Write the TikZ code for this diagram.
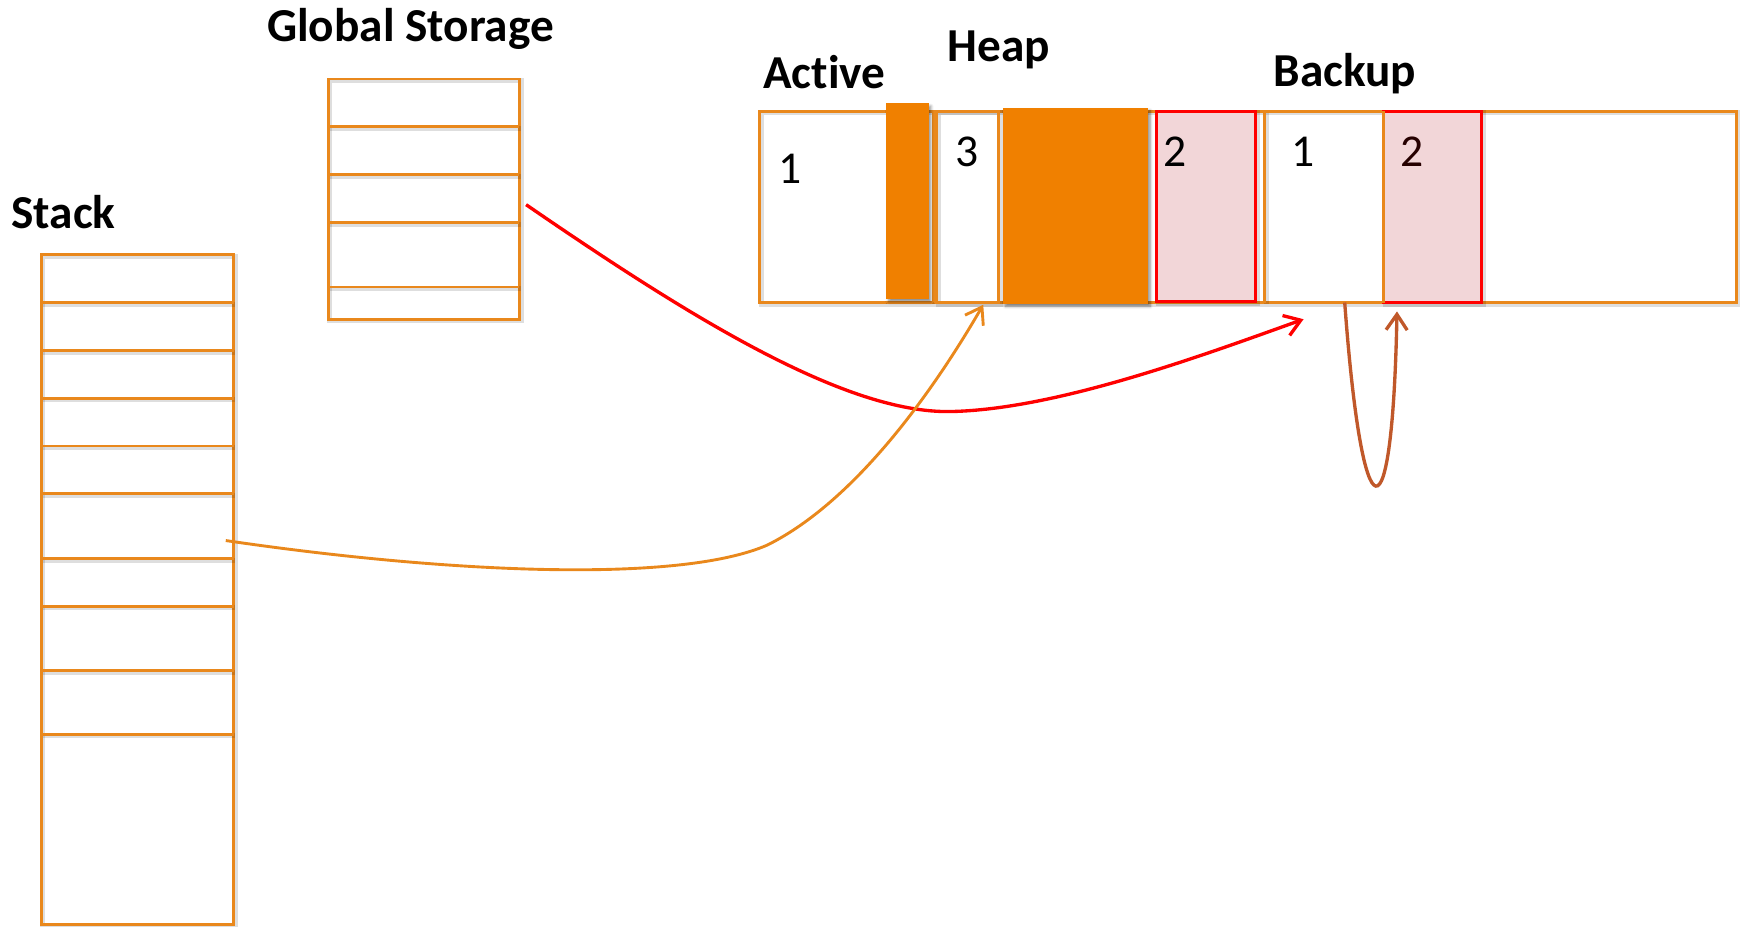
\documentclass[tikz,border=0pt]{standalone}
\usepackage{fontspec}
\setmainfont{Carlito}[Ligatures=NoCommon]
\usetikzlibrary{arrows.meta,shadows.blur}
\definecolor{oline}{RGB}{233,136,28}
\definecolor{ofill}{RGB}{240,128,0}
\definecolor{pinkf}{RGB}{242,214,216}
\definecolor{redl}{RGB}{255,0,0}
\definecolor{brownl}{RGB}{192,88,42}
\begin{document}
\begin{tikzpicture}[x=1pt,y=-1pt,
  shd/.style={preaction={draw=black, draw opacity=0.13, line width=4.5pt, transform canvas={shift={(1.5pt,-1.5pt)}}}},
  box/.style={draw=oline, line width=2.6pt, shd},
  redbox/.style={draw=redl, fill=pinkf, line width=2.6pt, shd},
  block/.style={fill=ofill, blur shadow={shadow xshift=2pt, shadow yshift=-2.5pt, shadow blur steps=6, shadow blur radius=2.5pt, shadow opacity=45}},
  lbl/.style={font=\fontsize{42.5}{50}\selectfont\bfseries, anchor=base west, inner sep=0pt},
  num/.style={font=\fontsize{41}{48}\selectfont, anchor=base west, inner sep=0pt},
  tip/.style={-{Straight Barb[length=14pt,width=19pt]}}
]
\useasboundingbox (0,0) rectangle (1568,833);

% labels
\node[lbl] (gsl) at (240,37) {Global Storage};
\node[lbl] (stl) at (10,205) {Stack};
\node[lbl] (acl) at (686,80) {Active};
\node[lbl] (hpl) at (852,55) {Heap};
\node[lbl] (bkl) at (1145,78) {Backup};

% global storage
\draw[box] (295,71) rectangle (467,287);
\foreach \y in {114,157,200,258} \draw[box] (295,\y) -- (467,\y);

% stack
\draw[box] (37,229) rectangle (210,831);
\foreach \y in {272,315,358,401,444,502,545,603,660} \draw[box] (37,\y) -- (210,\y);

% heap
\draw[box] (683,100) rectangle (1561,272);
\draw[box] (839,100) -- (839,272);
\draw[box] (842,100) rectangle (898,272);
\draw[box] (1137,100) -- (1137,272);
\draw[redbox] (1040,100) rectangle (1129,271);
\draw[redbox] (1244,100) rectangle (1332,272);
\draw[draw=oline, line width=2.6pt] (1244,100) -- (1244,272);
\fill[block] (797,93) rectangle (835,269);
\fill[block] (902,97) rectangle (1032,273);

% numbers
\node[num] (n1) at (700,165) {1};
\node[num] (n3) at (859,150) {3};
\node[num] (n2) at (1046,150) {2};
\node[num] (n1b) at (1161,150) {1};
\node[num, text=black!85!red] (n2b) at (1259,150) {2};

% connector endpoints
\coordinate (gsR) at (473,184);
\coordinate (bk1) at (1172,287);
\coordinate (stk) at (203,486);
\coordinate (c3) at (884,274);
\coordinate (bks) at (1209,272);
\coordinate (p2) at (1256,280);

% connectors
\draw[redl, line width=3pt, tip] (gsR) .. controls (620,285) and (760,372) .. (855,370) .. controls (950,368) and (1080,320) .. (bk1);
\draw[oline, line width=2.6pt, tip] (stk) .. controls (400,515) and (610,525) .. (690,490) .. controls (770,450) and (840,350) .. (c3);
\draw[brownl, line width=3pt, tip] (bks) .. controls (1225,490) and (1252,490) .. (p2);
\end{tikzpicture}
\end{document}
